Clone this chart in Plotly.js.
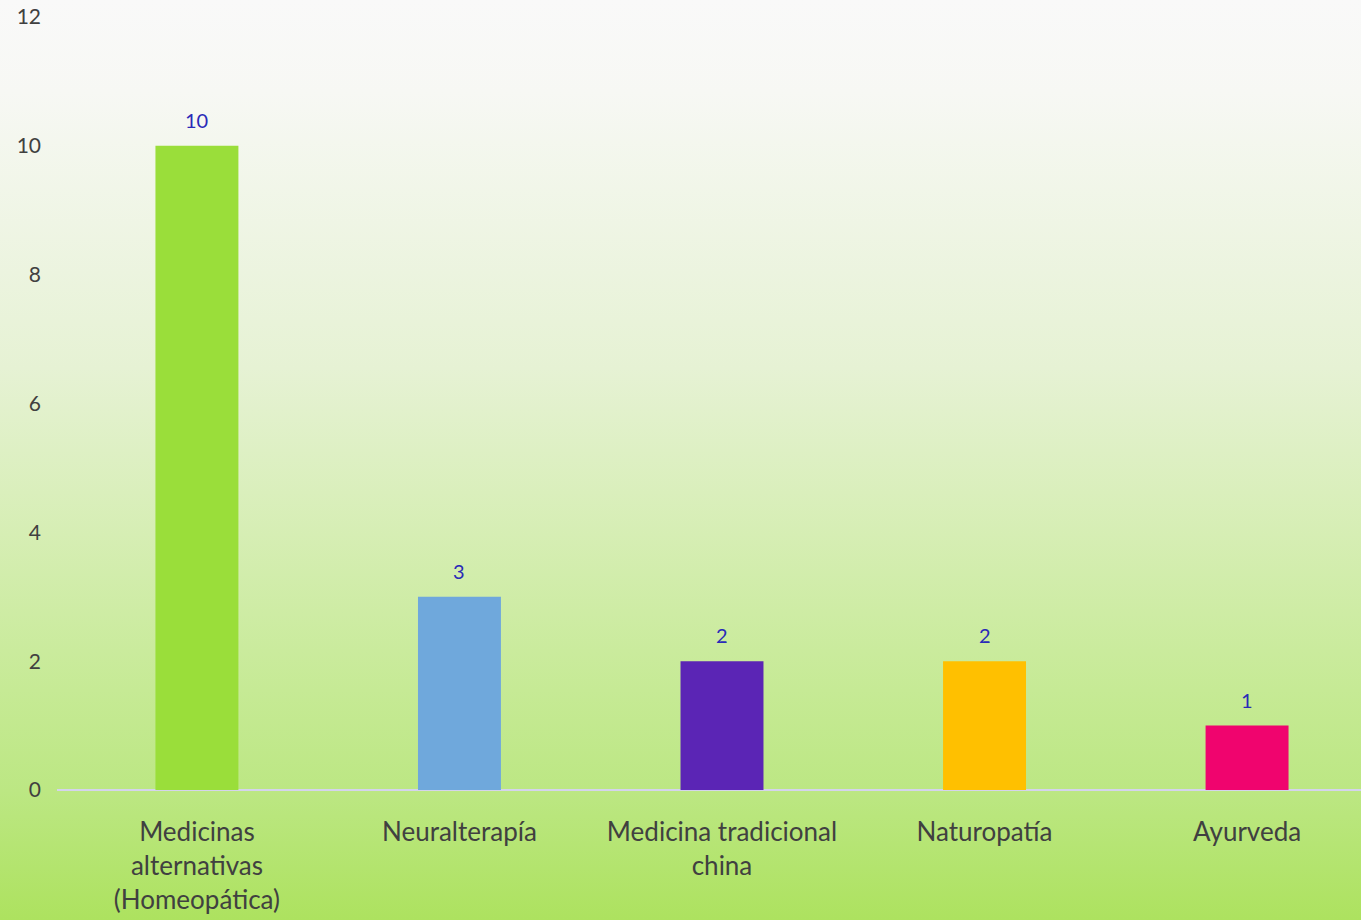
<!DOCTYPE html>
<html>
<head>
<meta charset="utf-8">
<script src="https://cdn.plot.ly/plotly-3.0.1.min.js"></script>
<style>
html,body{margin:0;padding:0;overflow:hidden;width:1361px;height:920px;}
body{background:linear-gradient(to bottom,#f9f9f9 0%,#f7f8f4 10%,#e6f2d4 40%,#d6eeb4 58%,#c6ea95 75%,#bce783 86%,#ade25f 100%);}
#chart{width:1361px;height:920px;}
</style>
</head>
<body>
<div id="chart"></div>
<script>
const categories = ["Medicinas<br>alternativas<br>(Homeopática)", "Neuralterapía", "Medicina tradicional<br>china", "Naturopatía", "Ayurveda"];
const values = [10, 3, 2, 2, 1];
const barColors = ["#9ADE3A", "#6FA8DC", "#5B25B5", "#FFC000", "#F0046E"];
const yTicks = [0, 2, 4, 6, 8, 10, 12];

const FONT = "Lato, 'Open Sans', sans-serif";

const trace = {
  type: "bar",
  x: categories,
  y: values,
  marker: {color: barColors, line: {width: 0}},
  width: 0.316,
  hoverinfo: "x+y"
};

const annotations = categories.map((c, i) => ({
  x: c, y: values[i], text: String(values[i]),
  showarrow: false, yanchor: "bottom", yshift: 12,
  font: {family: FONT, size: 20, color: "#2a2ab8"}
}));

const layout = {
  width: 1361, height: 920,
  margin: {l: 57, r: 0, t: 17, b: 130},
  paper_bgcolor: "rgba(0,0,0,0)",
  plot_bgcolor: "rgba(0,0,0,0)",
  showlegend: false,
  font: {family: FONT, color: "#404040"},
  xaxis: {
    type: "category",
    range: [-0.533, 4.434],
    showgrid: false, showline: false, zeroline: false,
    ticks: "", ticklabelstandoff: 24,
    tickfont: {family: FONT, size: 26, color: "#404040"}
  },
  yaxis: {
    range: [0, 12],
    tickvals: yTicks,
    showgrid: false, showline: false,
    zeroline: true, zerolinecolor: "#d4d4ec", zerolinewidth: 2,
    ticks: "", ticklabelstandoff: 15,
    tickfont: {family: FONT, size: 21, color: "#404040"}
  },
  annotations: annotations
};

Plotly.newPlot("chart", [trace], layout, {displayModeBar: false, staticPlot: true});
</script>
</body>
</html>
